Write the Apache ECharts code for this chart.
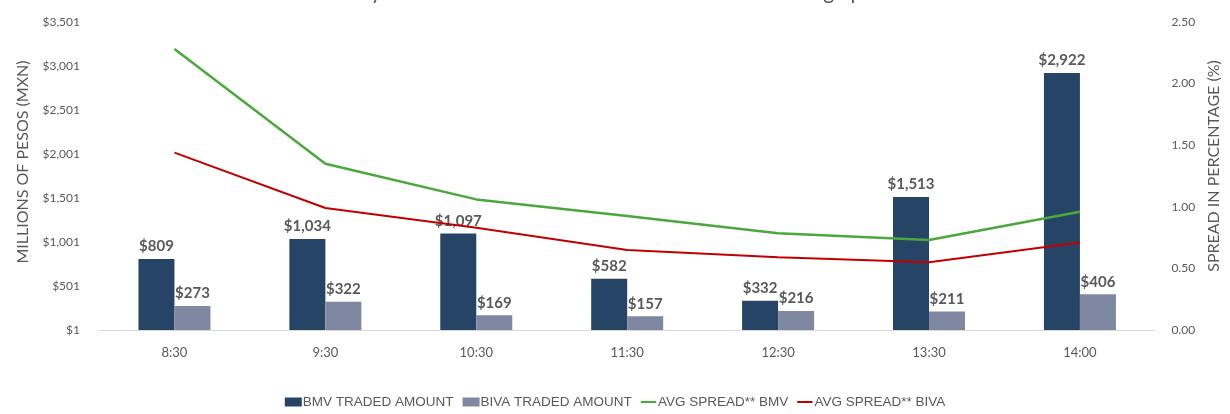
<!DOCTYPE html>
<html>
<head>
<meta charset="utf-8">
<script src="https://cdn.jsdelivr.net/npm/echarts@6/dist/echarts.min.js"></script>
<style>
html,body{margin:0;padding:0;background:#fff;}
#chart{width:1230px;height:414px;}
</style>
</head>
<body>
<div id="chart"></div>
<script>
const titleText = "Intraday Traded Amount in BMV and BIVA vs. the Closing Spread";
const categories = ["8:30", "9:30", "10:30", "11:30", "12:30", "13:30", "14:00"];
const bmvAmount = [809, 1034, 1097, 582, 332, 1513, 2922];
const bivaAmount = [273, 322, 169, 157, 216, 211, 406];
const bmvSpread = [2.28, 1.35, 1.06, 0.925, 0.785, 0.73, 0.96];
const bivaSpread = [1.44, 0.99, 0.83, 0.65, 0.59, 0.55, 0.71];
const seriesNames = ["BMV TRADED AMOUNT", "BIVA TRADED AMOUNT", "AVG SPREAD** BMV", "AVG SPREAD** BIVA"];

const gray = '#595959';
const money = v => '$' + Math.round(v).toLocaleString('en-US');
const lineIcon = 'path://M0 0 L0.01 0 L0.01 0.01 Z M0 4 H17 V6.2 H0 Z M0 10 L0.01 10 L0.01 9.99 Z';

const chart = echarts.init(document.getElementById('chart'), null, {renderer: 'canvas'});
const barLabel = {
  show: true, position: 'top', distance: 5,
  fontFamily: 'Lato', fontWeight: 'bold', fontSize: 15, color: gray,
  formatter: p => money(p.value)
};
chart.setOption({
  animation: false,
  backgroundColor: '#fff',
  title: {
    text: titleText, left: 301, top: -23,
    textStyle: {fontFamily: 'Lato', fontSize: 21, fontWeight: 'normal', color: gray}
  },
  grid: {left: 99, right: 69, top: 22, bottom: 84},
  legend: {
    data: [
      {name: seriesNames[0], icon: 'rect'},
      {name: seriesNames[1], icon: 'rect'},
      {name: seriesNames[2], icon: lineIcon},
      {name: seriesNames[3], icon: lineIcon}
    ],
    bottom: 0, left: 'center',
    itemWidth: 17, itemHeight: 9, itemGap: 9,
    textStyle: {fontFamily: 'Liberation Sans', fontSize: 13.5, color: gray, padding: [0,0,0,-4]}
  },
  xAxis: {
    type: 'category', data: categories,
    axisLine: {lineStyle: {color: '#d9d9d9', width: 1}},
    axisTick: {show: false},
    axisLabel: {fontFamily: 'Lato', fontSize: 13, color: gray, margin: 16}
  },
  yAxis: [{
    type: 'value', min: 1, max: 3501, interval: 500,
    name: 'MILLIONS OF PESOS (MXN)', nameLocation: 'middle', nameRotate: 90, nameGap: 68,
    nameTextStyle: {fontFamily: 'Lato', fontSize: 16, color: gray, padding: [0,0,0,28]},
    axisLine: {show: false}, axisTick: {show: false}, splitLine: {show: false},
    axisLabel: {fontFamily: 'Lato', fontSize: 12, color: gray, margin: 19, formatter: v => money(v)}
  }, {
    type: 'value', min: 0, max: 2.5, interval: 0.5, position: 'right',
    name: 'SPREAD IN PERCENTAGE (%)', nameLocation: 'middle', nameRotate: 90, nameGap: 48,
    nameTextStyle: {fontFamily: 'Lato', fontSize: 16, color: gray, padding: [0,0,0,20]},
    axisLine: {show: false}, axisTick: {show: false}, splitLine: {show: false},
    axisLabel: {fontFamily: 'Lato', fontSize: 12, color: gray, margin: 16, formatter: v => v.toFixed(2)}
  }],
  series: [{
    name: seriesNames[0], type: 'bar', data: bmvAmount, barWidth: 36, barGap: '0%',
    itemStyle: {color: '#264466'}, label: barLabel
  }, {
    name: seriesNames[1], type: 'bar', data: bivaAmount, barWidth: 36,
    itemStyle: {color: '#7f88a1'}, label: barLabel
  }, {
    name: seriesNames[2], type: 'line', yAxisIndex: 1, data: bmvSpread,
    symbol: 'none', lineStyle: {color: '#4aa83d', width: 2.5}, itemStyle: {color: '#4aa83d'}, z: 3
  }, {
    name: seriesNames[3], type: 'line', yAxisIndex: 1, data: bivaSpread,
    symbol: 'none', lineStyle: {color: '#c00000', width: 2}, itemStyle: {color: '#c00000'}, z: 3
  }]
});
</script>
</body>
</html>
